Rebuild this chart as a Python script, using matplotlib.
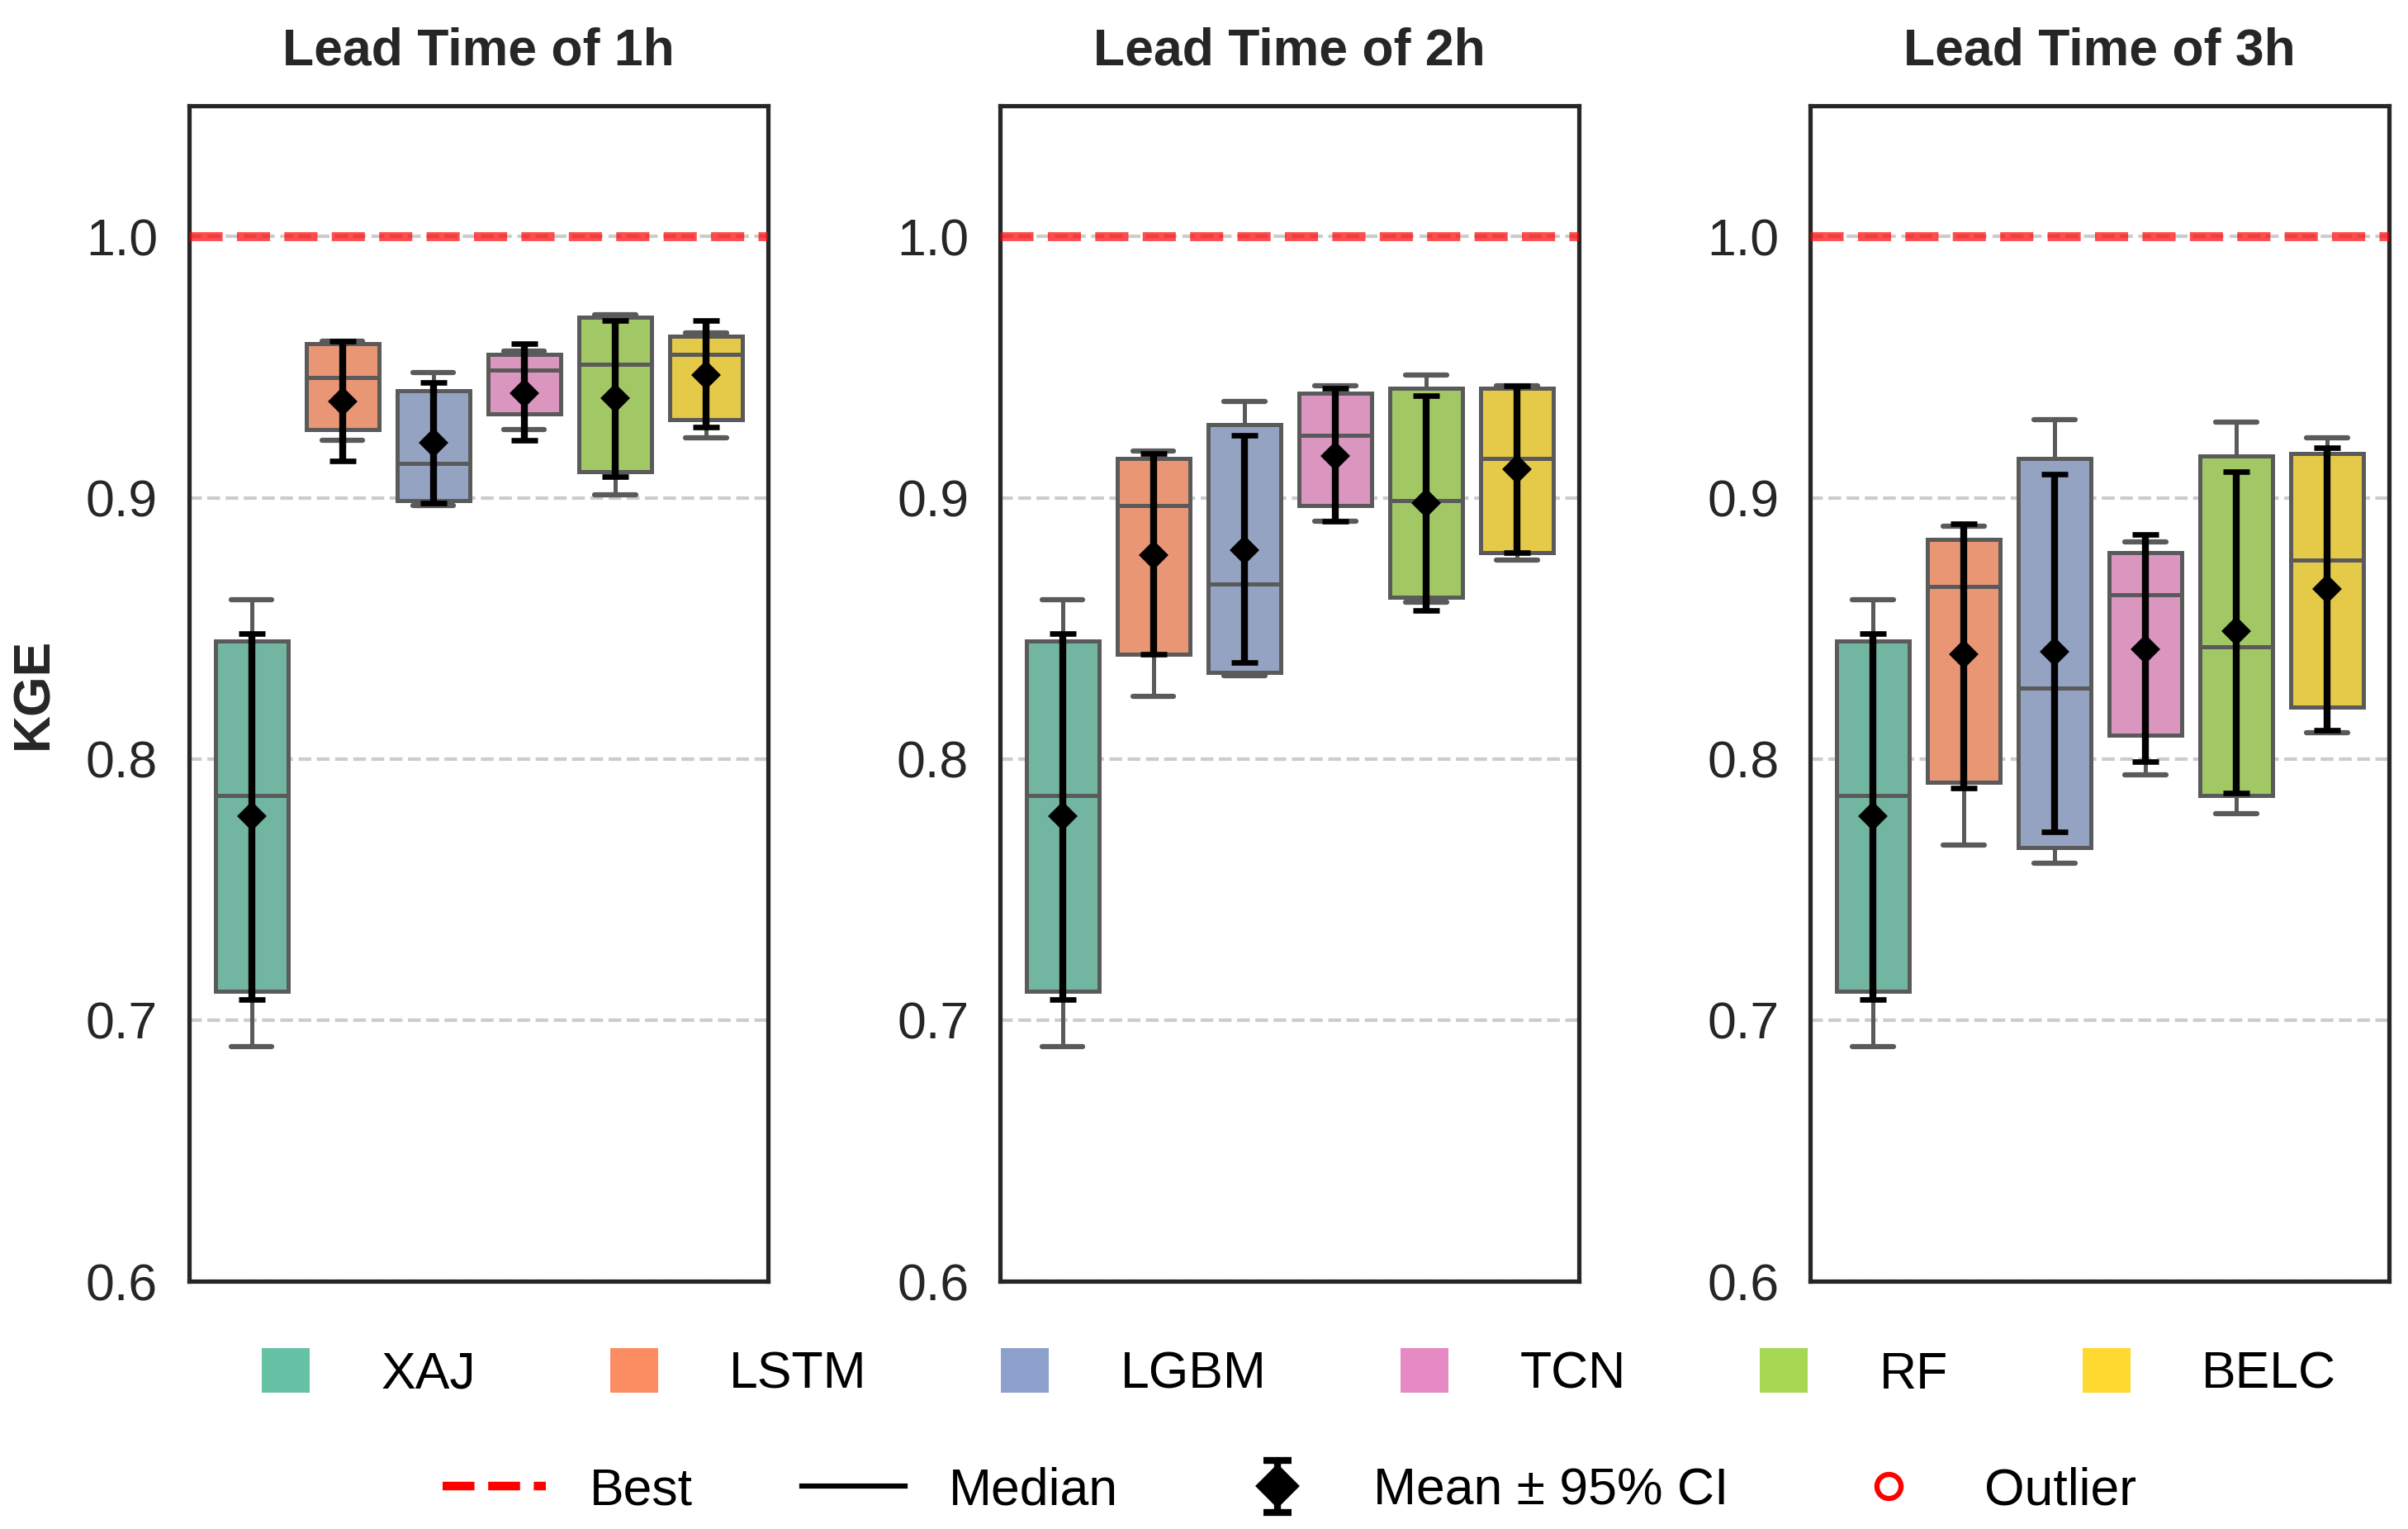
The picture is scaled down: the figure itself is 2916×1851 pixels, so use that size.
import numpy as np
import matplotlib
matplotlib.use("Agg")
import matplotlib.pyplot as plt
from matplotlib.patches import Patch
from matplotlib.lines import Line2D
import colorsys
import matplotlib.colors as mcolors

plt.rcParams['font.family'] = ['Liberation Sans', 'DejaVu Sans']

# ---------------- data ----------------
models = ["XAJ", "LSTM", "LGBM", "TCN", "RF", "BELC"]
lead_titles = ["Lead Time of 1h", "Lead Time of 2h", "Lead Time of 3h"]
palette = ["#66c2a5", "#fc8d62", "#8da0cb", "#e78ac3", "#a6d854", "#ffd92f"]

# rows: lead time 1h, 2h, 3h ; columns: models
whislo = [[0.690, 0.922, 0.897, 0.926, 0.901, 0.923],
          [0.690, 0.824, 0.832, 0.891, 0.860, 0.876],
          [0.690, 0.767, 0.760, 0.794, 0.779, 0.810]]
q1 = [[0.711, 0.926, 0.899, 0.932, 0.910, 0.930],
      [0.711, 0.840, 0.833, 0.897, 0.862, 0.879],
      [0.711, 0.791, 0.766, 0.809, 0.786, 0.820]]
median = [[0.786, 0.946, 0.913, 0.949, 0.951, 0.955],
          [0.786, 0.897, 0.867, 0.924, 0.899, 0.915],
          [0.786, 0.866, 0.827, 0.863, 0.843, 0.876]]
q3 = [[0.845, 0.959, 0.941, 0.955, 0.969, 0.962],
      [0.845, 0.915, 0.928, 0.940, 0.942, 0.942],
      [0.845, 0.884, 0.915, 0.879, 0.916, 0.917]]
whishi = [[0.861, 0.960, 0.948, 0.956, 0.970, 0.963],
          [0.861, 0.918, 0.937, 0.943, 0.947, 0.943],
          [0.861, 0.889, 0.930, 0.883, 0.929, 0.923]]
mean = [[0.778, 0.937, 0.921, 0.940, 0.938, 0.947],
        [0.778, 0.878, 0.880, 0.916, 0.898, 0.911],
        [0.778, 0.840, 0.841, 0.842, 0.849, 0.865]]
ci_low = [[0.708, 0.914, 0.898, 0.922, 0.908, 0.927],
          [0.708, 0.840, 0.837, 0.891, 0.857, 0.879],
          [0.708, 0.789, 0.772, 0.799, 0.787, 0.811]]
ci_high = [[0.848, 0.960, 0.944, 0.959, 0.968, 0.968],
           [0.848, 0.917, 0.924, 0.942, 0.939, 0.943],
           [0.848, 0.890, 0.909, 0.886, 0.910, 0.919]]
best_value = 1.0
yticks = [0.6, 0.7, 0.8, 0.9, 1.0]


def desaturate(color, prop=0.75):
    r, g, b = mcolors.to_rgb(color)
    h, l, s = colorsys.rgb_to_hls(r, g, b)
    return colorsys.hls_to_rgb(h, l, s * prop)


edge = "#5a5a5a"
fig = plt.figure(figsize=(9.72, 6.17), dpi=300)
lefts = [0.0784, 0.4152, 0.7517]
axes = [fig.add_axes([l, 0.162, 0.2404, 0.7687]) for l in lefts]

for k, ax in enumerate(axes):
    pos = np.arange(len(models))
    stats = []
    for i in range(len(models)):
        stats.append(dict(med=median[k][i], q1=q1[k][i], q3=q3[k][i],
                          whislo=whislo[k][i], whishi=whishi[k][i], fliers=[]))
    bp = ax.bxp(stats, positions=pos, widths=0.8, patch_artist=True,
                showfliers=False,
                boxprops=dict(edgecolor=edge, linewidth=1.2),
                medianprops=dict(color=edge, linewidth=1.2),
                whiskerprops=dict(color=edge, linewidth=1.2),
                capprops=dict(color=edge, linewidth=1.5, solid_capstyle='round'),
                capwidths=0.45, zorder=2)
    for patch, c in zip(bp['boxes'], palette):
        patch.set_facecolor(desaturate(c))
    m = np.array(mean[k])
    lo = m - np.array(ci_low[k])
    hi = np.array(ci_high[k]) - m
    ax.errorbar(pos, m, yerr=[lo, hi], fmt='D', color='black', ms=5,
                elinewidth=2, capsize=3.8, capthick=1.6, zorder=5)
    ax.axhline(best_value, color='red', ls='--', lw=2.6, alpha=0.7, zorder=3)
    ax.set_ylim(0.6, 1.05)
    ax.set_xlim(-0.69, 5.68)
    ax.set_yticks(yticks)
    ax.set_yticklabels([f"{t:.1f}" for t in yticks], fontsize=15, color='#262626')
    ax.set_xticks([])
    ax.tick_params(axis='y', length=0, pad=9)
    ax.yaxis.grid(True, linestyle='--', color='#cccccc', linewidth=1.0, zorder=0)
    ax.set_axisbelow(True)
    for sp in ax.spines.values():
        sp.set_color('#262626')
        sp.set_linewidth(1.25)
    ax.set_title(lead_titles[k], fontsize=15, fontweight='bold', pad=12, color='#262626')

axes[0].set_ylabel("KGE", fontsize=15, fontweight='bold', labelpad=8, color='#262626')

# legend 1: models
h1 = [Patch(facecolor=c, edgecolor='none') for c in palette]
fig.legend(h1, models, loc='center', bbox_to_anchor=(0.5395, 0.1015), ncol=6,
           frameon=False, fontsize=15, handlelength=0.93, handleheight=0.95,
           handletextpad=1.38, columnspacing=2.6)

# legend 2: symbols
best_h = Line2D([], [], color='red', ls='--', lw=2.5)
med_h = Line2D([], [], color='black', lw=1.5)
eb_h = axes[0].errorbar([0.0], [np.nan], yerr=[[0.05], [0.05]], fmt='D', color='black',
                        ms=8, elinewidth=2, capsize=4, capthick=2)
out_h = Line2D([], [], ls='none', marker='o', mfc='none', mec='red', ms=7, mew=1.5)
fig.legend([best_h, med_h, eb_h, out_h], ["Best", "Median", "Mean \u00b1 95% CI", "Outlier"],
           loc='center', bbox_to_anchor=(0.5355, 0.025), ncol=4, frameon=False,
           fontsize=15, handlelength=2.0, handletextpad=0.85, columnspacing=2.1)

fig.savefig("out.png", dpi=300)
